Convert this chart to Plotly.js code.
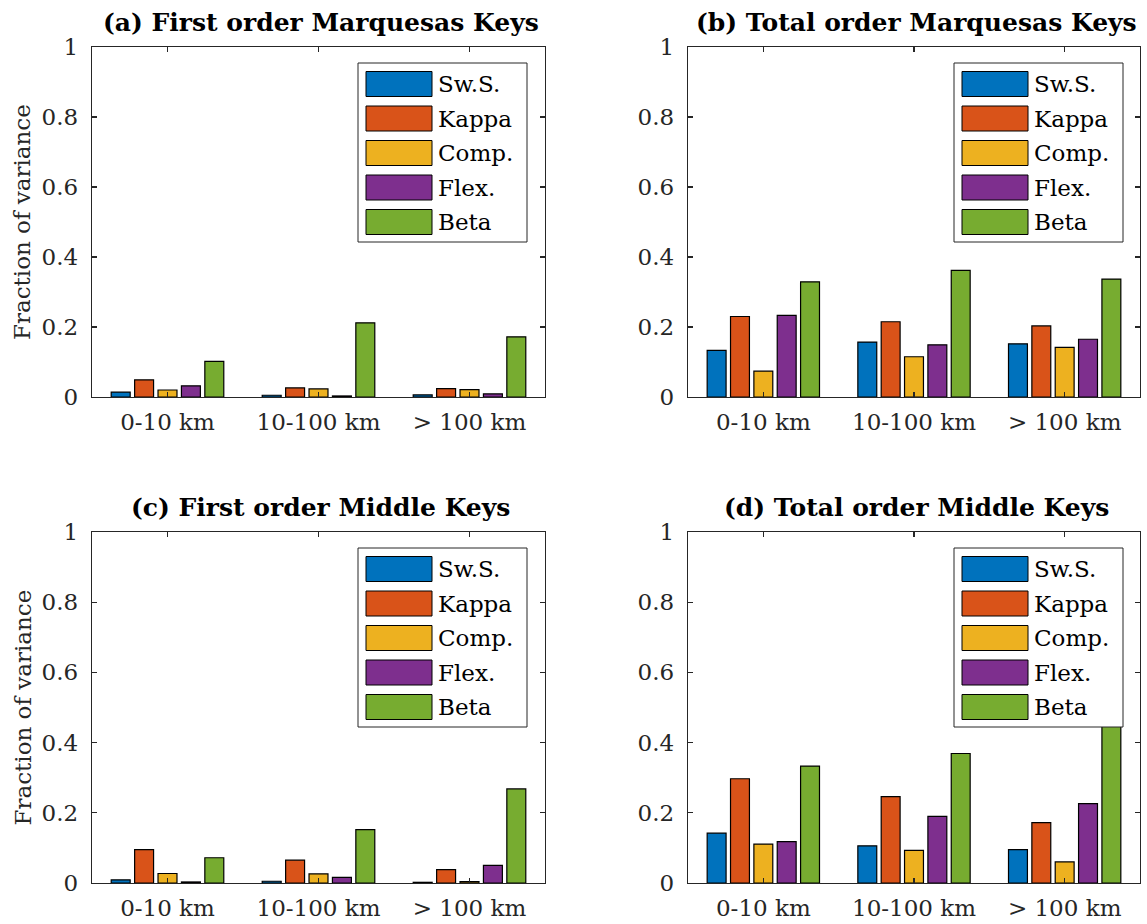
<!DOCTYPE html>
<html>
<head>
<meta charset="utf-8">
<script src="https://cdn.plot.ly/plotly-3.0.1.min.js"></script>
<style>html,body{margin:0;padding:0;background:#fff;}#chart{width:1147px;height:924px;}</style>
</head>
<body>
<div id="chart"></div>
<script>
// ---- data ----
const categories = ['0-10 km', '10-100 km', '> 100 km'];
const seriesNames = ['Sw.S.', 'Kappa', 'Comp.', 'Flex.', 'Beta'];
const seriesColors = ['#0072BD', '#D95319', '#EDB120', '#7E2F8E', '#77AC30'];
const yTickVals = [0, 0.2, 0.4, 0.6, 0.8, 1];
const yTickText = ['0', '0.2', '0.4', '0.6', '0.8', '1'];
const panelTitles = [
  '(a) First order Marquesas Keys',
  '(b) Total order Marquesas Keys',
  '(c) First order Middle Keys',
  '(d) Total order Middle Keys'
];
const yAxisTitle = 'Fraction of variance';

// rows: Sw.S., Kappa, Comp., Flex., Beta ; columns: categories
const panelA = [
  [0.014, 0.005, 0.006],
  [0.049, 0.026, 0.024],
  [0.020, 0.023, 0.021],
  [0.032, 0.003, 0.009],
  [0.102, 0.212, 0.172]
];
const panelB = [
  [0.133, 0.157, 0.152],
  [0.230, 0.215, 0.203],
  [0.074, 0.115, 0.142],
  [0.233, 0.149, 0.165],
  [0.329, 0.362, 0.337]
];
const panelC = [
  [0.009, 0.005, 0.002],
  [0.095, 0.065, 0.038],
  [0.027, 0.026, 0.004],
  [0.003, 0.016, 0.050],
  [0.072, 0.152, 0.268]
];
const panelD = [
  [0.142, 0.106, 0.095],
  [0.297, 0.246, 0.172],
  [0.111, 0.093, 0.060],
  [0.118, 0.190, 0.226],
  [0.333, 0.369, 0.500]
];
const panels = [panelA, panelB, panelC, panelD];

// ---- layout geometry (pixels) ----
const W = 1147, H = 924;
const colPx = [[92, 545], [688, 1140]];
const rowPx = [[47, 397], [532, 883]];
const FONT = 'DejaVu Serif, serif';
const FS = 23;
const FS_TITLE = 25;
const AX = '#262626';

const traces = [];
const layout = {
  width: W, height: H,
  margin: {l: 0, r: 0, t: 0, b: 0},
  paper_bgcolor: '#ffffff', plot_bgcolor: '#ffffff',
  barmode: 'group',
  bargap: 0.225,
  bargroupgap: 0.19,
  showlegend: false,
  font: {family: FONT, size: FS, color: AX},
  shapes: [],
  annotations: []
};

panels.forEach((data, p) => {
  const r = Math.floor(p / 2), c = p % 2;
  const xa = p === 0 ? 'x' : 'x' + (p + 1);
  const ya = p === 0 ? 'y' : 'y' + (p + 1);
  const xKey = p === 0 ? 'xaxis' : 'xaxis' + (p + 1);
  const yKey = p === 0 ? 'yaxis' : 'yaxis' + (p + 1);
  const [x0, x1] = colPx[c];
  const [yt, yb] = rowPx[r];
  const pw = x1 - x0, ph = yb - yt;

  data.forEach((vals, k) => {
    traces.push({
      type: 'bar',
      name: seriesNames[k],
      x: categories,
      y: vals,
      xaxis: xa, yaxis: ya,
      marker: {color: seriesColors[k], line: {color: '#000000', width: 1.2}},
      hoverinfo: 'x+y+name'
    });
  });

  layout[xKey] = {
    domain: [x0 / W, x1 / W],
    anchor: ya,
    type: 'category',
    range: [-0.5, 2.5],
    showline: true, linecolor: AX, linewidth: 1.3, mirror: 'ticks',
    ticks: 'inside', ticklen: 5, tickwidth: 1.3, tickcolor: AX,
    showgrid: false, zeroline: false,
    tickfont: {family: FONT, size: FS, color: AX},
    ticklabelstandoff: 4,
    fixedrange: true
  };
  layout[yKey] = {
    domain: [1 - yb / H, 1 - yt / H],
    anchor: xa,
    range: [0, 1],
    tickvals: yTickVals, ticktext: yTickText,
    showline: true, linecolor: AX, linewidth: 1.3, mirror: 'ticks',
    ticks: 'inside', ticklen: 5, tickwidth: 1.3, tickcolor: AX,
    showgrid: false, zeroline: false,
    tickfont: {family: FONT, size: FS, color: AX},
    ticklabelstandoff: 8,
    fixedrange: true
  };

  // panel title
  layout.annotations.push({
    xref: 'paper', yref: 'paper',
    x: (x0 + pw / 2 + 2) / W, y: 1 - (yt - 25) / H,
    xanchor: 'center', yanchor: 'middle',
    text: '<b>' + panelTitles[p] + '</b>',
    showarrow: false,
    font: {family: FONT, size: FS_TITLE, color: '#000000'}
  });

  // y axis title on left column
  if (c === 0) {
    layout.annotations.push({
      xref: 'paper', yref: 'paper',
      x: 22 / W, y: 1 - (yt + ph / 2) / H,
      xanchor: 'center', yanchor: 'middle',
      textangle: -90,
      text: yAxisTitle,
      showarrow: false,
      font: {family: FONT, size: FS, color: AX}
    });
  }

  // legend box (drawn on top of bars, like the original)
  const bx0 = x0 + 266, bx1 = x0 + 435, by0 = yt + 16, by1 = yt + 195;
  layout.shapes.push({
    type: 'rect', xref: 'paper', yref: 'paper', layer: 'above',
    x0: bx0 / W, x1: bx1 / W, y0: 1 - by1 / H, y1: 1 - by0 / H,
    fillcolor: '#ffffff', line: {color: AX, width: 1}
  });
  seriesNames.forEach((nm, k) => {
    const cy = yt + 37 + 34.5 * k;
    layout.shapes.push({
      type: 'rect', xref: 'paper', yref: 'paper', layer: 'above',
      x0: (bx0 + 8) / W, x1: (bx0 + 74) / W,
      y0: 1 - (cy + 12.5) / H, y1: 1 - (cy - 12.5) / H,
      fillcolor: seriesColors[k], line: {color: '#000000', width: 1}
    });
    layout.annotations.push({
      xref: 'paper', yref: 'paper',
      x: (bx0 + 78) / W, y: 1 - cy / H,
      xanchor: 'left', yanchor: 'middle',
      text: nm, showarrow: false,
      font: {family: FONT, size: FS, color: '#000000'}
    });
  });
});

Plotly.newPlot('chart', traces, layout, {displayModeBar: false, staticPlot: true});
</script>
</body>
</html>
